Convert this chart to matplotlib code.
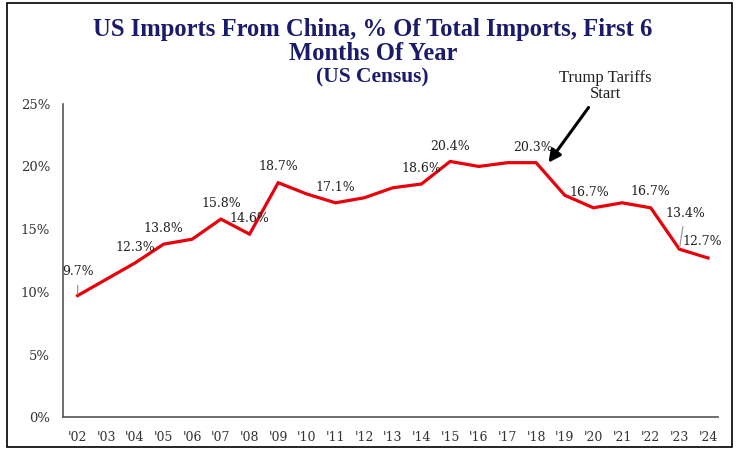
import matplotlib.pyplot as plt
from matplotlib.patches import Rectangle

years = list(range(2002, 2025))
share = [9.7, 11.0, 12.3, 13.8, 14.2, 15.8, 14.6, 18.7, 17.8, 17.1, 17.5, 18.3,
         18.6, 20.4, 20.0, 20.3, 20.3, 17.7, 16.7, 17.1, 16.7, 13.4, 12.7]
tick_labels = ["'" + str(y)[2:] for y in years]

# years that get a value label, with the label offset in points (dx, dy)
labelled = {2002: (0, 17), 2004: (0, 11), 2005: (0, 11), 2007: (0, 11),
            2008: (0, 11), 2009: (0, 12), 2011: (0, 11), 2014: (0, 11),
            2015: (0, 11), 2018: (-2, 11), 2020: (-3, 11), 2022: (0, 12),
            2023: (4, 26), 2024: (-4, 12)}
leader = {2002, 2023}

serif = "DejaVu Serif"
title_font = "Liberation Serif"
navy = "#1b1b6b"

fig = plt.figure(figsize=(7.38, 4.55), dpi=100)
ax = fig.add_axes([0.085, 0.083, 0.888, 0.689])

ax.plot(years, share, color="#e8000b", lw=2.3, solid_joinstyle="miter")

for yr, (dx, dy) in labelled.items():
    v = share[years.index(yr)]
    ax.annotate(f"{v:.1f}%", (yr, v), xytext=(dx, dy), textcoords="offset points",
                ha="center", va="center", fontsize=9, family=serif, color="#222222",
                arrowprops=dict(arrowstyle="-", color="#999999", lw=0.9,
                                shrinkA=3, shrinkB=1) if yr in leader else None)

# tariff note and its arrow pointing at the 2018 peak
ax.text(2020.43, 26.4, "Trump Tariffs\nStart", ha="center", va="center",
        fontsize=12, family=title_font, color="#222222", linespacing=1.0,
        clip_on=False)
ax.annotate("", xy=(2018.43, 20.3), xytext=(2019.83, 24.7), annotation_clip=False,
            arrowprops=dict(arrowstyle="-|>", color="black", lw=2.2,
                            mutation_scale=18, shrinkA=0, shrinkB=0))

ax.set_xlim(2001.48, 2024.35)
ax.set_ylim(0, 25)
ax.set_xticks(years)
ax.set_xticklabels(tick_labels, family=serif, fontsize=9, color="#333333")
ax.set_yticks([0, 5, 10, 15, 20, 25])
ax.set_yticklabels([f"{t}%" for t in range(0, 30, 5)], family=serif,
                   fontsize=9.5, color="#333333")
ax.tick_params(length=0, pad=10)
ax.tick_params(axis="y", pad=9)
for s in ["top", "right"]:
    ax.spines[s].set_visible(False)
for s in ["left", "bottom"]:
    ax.spines[s].set_color("#555555")
    ax.spines[s].set_linewidth(1.2)

fig.text(0.505, 0.936, "US Imports From China, % Of Total Imports, First 6",
         ha="center", va="center", fontsize=17.7, fontweight="bold",
         family=title_font, color=navy)
fig.text(0.505, 0.883, "Months Of Year", ha="center", va="center", fontsize=17.7,
         fontweight="bold", family=title_font, color=navy)
fig.text(0.505, 0.83, "(US Census)", ha="center", va="center", fontsize=15.5,
         fontweight="bold", family=title_font, color=navy)

fig.patches.append(Rectangle((0.009, 0.017), 0.983, 0.976, transform=fig.transFigure,
                             fill=False, edgecolor="black", lw=1.2))

fig.savefig("out.png", dpi=100)
